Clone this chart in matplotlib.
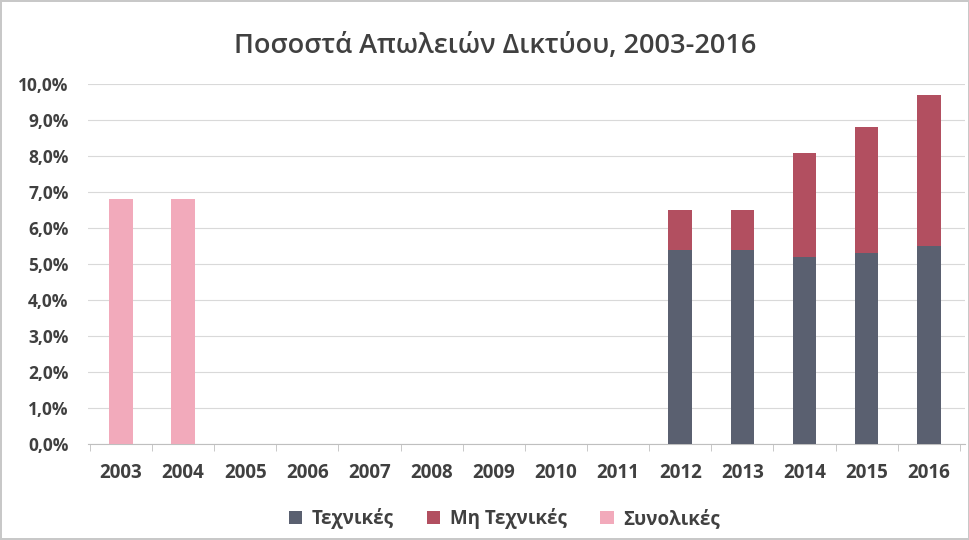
import numpy as np
import matplotlib.pyplot as plt
from matplotlib.ticker import FuncFormatter

plt.rcParams['font.family'] = ['Open Sans', 'DejaVu Sans']

# Data (percent)
years = ['2003', '2004', '2005', '2006', '2007', '2008', '2009',
         '2010', '2011', '2012', '2013', '2014', '2015', '2016']
technical = [0, 0, 0, 0, 0, 0, 0, 0, 0, 5.4, 5.4, 5.2, 5.3, 5.5]
non_technical = [0, 0, 0, 0, 0, 0, 0, 0, 0, 1.1, 1.1, 2.9, 3.5, 4.2]
total = [6.8, 6.8, 0, 0, 0, 0, 0, 0, 0, 0, 0, 0, 0, 0]

c_tech = '#5a6070'
c_nontech = '#b24f60'
c_total = '#f2aabb'
text_col = '#404040'

fig = plt.figure(figsize=(9.7, 5.4), dpi=100)
fig.patch.set_edgecolor('#c8c8c8')
fig.patch.set_linewidth(1.5)
ax = fig.add_axes([0.0907, 0.178, 0.904, 0.666])

x = np.arange(len(years))
w = 0.38
ax.bar(x, technical, w, color=c_tech, label='Τεχνικές', zorder=3)
ax.bar(x, non_technical, w, bottom=technical, color=c_nontech, label='Μη Τεχνικές', zorder=3)
ax.bar(x, total, w, color=c_total, label='Συνολικές', zorder=3)

ax.set_ylim(0, 10)
ax.set_xlim(-0.53, 13.58)
ax.set_yticks(np.arange(0, 11, 1))
ax.yaxis.set_major_formatter(FuncFormatter(lambda v, p: f'{v:.1f}%'.replace('.', ',')))
ax.set_xticks(x)
ax.set_xticklabels(years)
ax.set_xticks(np.arange(-0.5, 14, 1), minor=True)

ax.grid(axis='y', color='#d9d9d9', linewidth=0.8, zorder=0)
for s in ['top', 'right', 'left']:
    ax.spines[s].set_visible(False)
ax.spines['bottom'].set_color('#bfbfbf')

ax.tick_params(axis='y', length=0, pad=14, labelsize=12.5, labelcolor=text_col)
ax.tick_params(axis='x', which='major', length=0, pad=14, labelsize=13.5, labelcolor=text_col)
ax.tick_params(axis='x', which='minor', length=5, color='#bfbfbf')
for lab in ax.get_xticklabels() + ax.get_yticklabels():
    lab.set_fontweight('bold')

fig.text(0.511, 0.915, 'Ποσοστά Απωλειών Δικτύου, 2003-2016', ha='center', va='center',
         fontsize=19.5, fontweight='semibold', color=text_col)

leg = fig.legend(loc='center', bbox_to_anchor=(0.52, 0.04), ncol=3, frameon=False,
                 handlelength=0.7, handleheight=0.7, columnspacing=1.8, handletextpad=0.5,
                 prop={'size': 13.5, 'weight': 'bold'})
for t in leg.get_texts():
    t.set_color(text_col)

fig.savefig('out.png', dpi=100)
